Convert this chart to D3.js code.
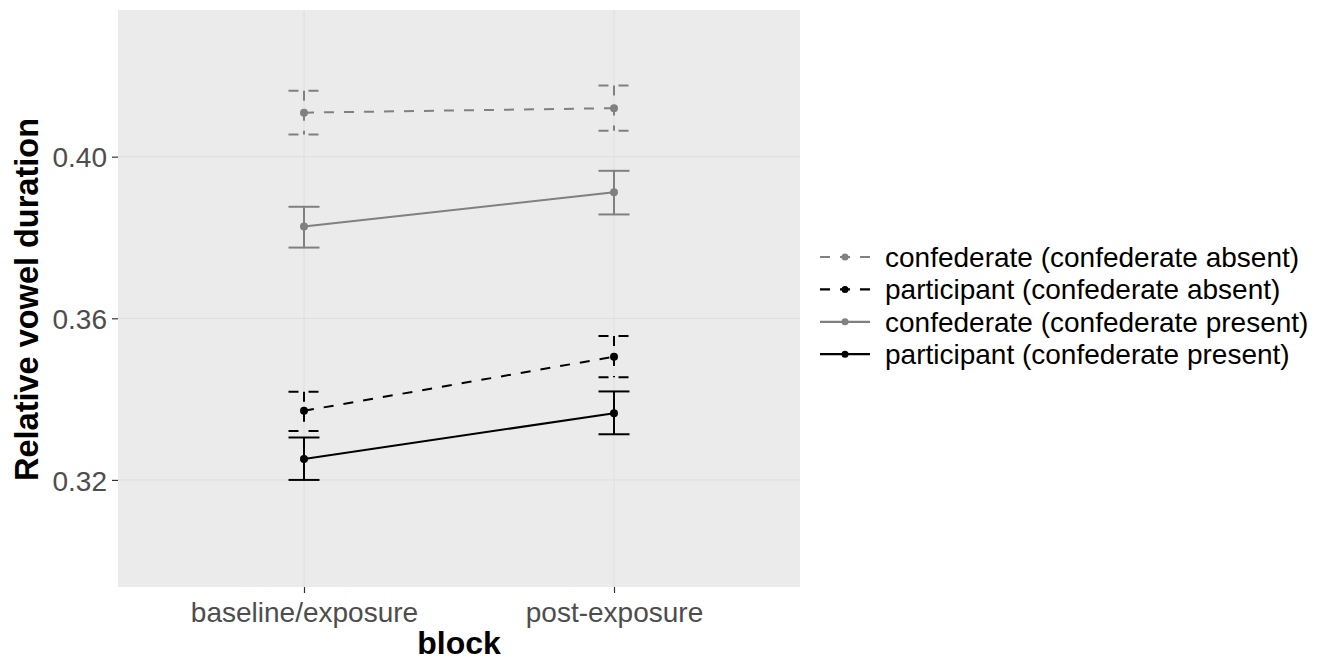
<!DOCTYPE html>
<html>
<head>
<meta charset="utf-8">
<script src="https://cdn.jsdelivr.net/npm/d3@7"></script>
<style>
  body { margin: 0; background: #fff; }
  svg { display: block; font-family: "Liberation Sans", Arial, sans-serif; }
</style>
</head>
<body>
<svg width="1324" height="662"></svg>
<script>
// data
const blocks = ["baseline/exposure", "post-exposure"];
const seriesNames = [
  "confederate (confederate absent)",
  "participant (confederate absent)",
  "confederate (confederate present)",
  "participant (confederate present)"
];
const means = [
  [0.4109, 0.4120],
  [0.3371, 0.3505],
  [0.3827, 0.3912],
  [0.3252, 0.3365]
];
const lower = [
  [0.4055, 0.4064],
  [0.3321, 0.3454],
  [0.3775, 0.3857],
  [0.3200, 0.3313]
];
const upper = [
  [0.4163, 0.4176],
  [0.3418, 0.3556],
  [0.3876, 0.3965],
  [0.3305, 0.3419]
];
const yTicks = [0.32, 0.36, 0.40];

const colours = ["#808080", "#000000", "#808080", "#000000"];
const dashes = ["10,10", "10,10", null, null];

let svg = d3.select("svg");
let panel = { left: 118, right: 800, top: 10, bottom: 587 };

let x = d3.scalePoint()
  .domain(blocks)
  .range([panel.left, panel.right])
  .padding(0.6);

let y = d3.scaleLinear()
  .domain([0.2935, 0.4363])
  .range([panel.bottom, panel.top]);

// panel background
svg.append("rect")
  .attr("x", panel.left)
  .attr("y", panel.top)
  .attr("width", panel.right - panel.left)
  .attr("height", panel.bottom - panel.top)
  .attr("fill", "#ebebeb");

// grid
let grid = svg.append("g").attr("stroke", "#dedede").attr("stroke-width", 1);
grid.selectAll(".gy")
  .data(yTicks)
  .enter()
  .append("line")
  .attr("x1", panel.left).attr("x2", panel.right)
  .attr("y1", d => y(d)).attr("y2", d => y(d));
grid.selectAll(".gx")
  .data(blocks)
  .enter()
  .append("line")
  .attr("y1", panel.top).attr("y2", panel.bottom)
  .attr("x1", d => x(d)).attr("x2", d => x(d));

// axes
let yAxis = svg.append("g")
  .attr("transform", `translate(${panel.left},0)`)
  .call(d3.axisLeft(y).tickValues(yTicks).tickFormat(d3.format(".2f")).tickSize(6).tickPadding(5));
let xAxis = svg.append("g")
  .attr("transform", `translate(0,${panel.bottom})`)
  .call(d3.axisBottom(x).tickSize(6).tickPadding(5));

[yAxis, xAxis].forEach(a => {
  a.select(".domain").remove();
  a.selectAll(".tick line").attr("stroke", "#333").attr("stroke-width", 1.2);
  a.selectAll(".tick text")
    .attr("fill", "#4d4d4d")
    .style("font-size", "28px")
    .style("font-family", "Liberation Sans, Arial, sans-serif");
});
xAxis.selectAll(".tick text").attr("dy", "0.85em");
yAxis.selectAll(".tick text").attr("dy", "0.36em");

// axis titles
svg.append("text")
  .attr("x", (panel.left + panel.right) / 2)
  .attr("y", 654)
  .attr("text-anchor", "middle")
  .style("font-size", "32px")
  .style("font-weight", "bold")
  .text("block");

svg.append("text")
  .attr("transform", `translate(38,${(panel.top + panel.bottom) / 2 + 1}) rotate(-90)`)
  .attr("text-anchor", "middle")
  .style("font-size", "32.5px")
  .style("font-weight", "bold")
  .text("Relative vowel duration");

// series
let series = seriesNames.map((name, i) => ({
  name: name,
  colour: colours[i],
  dash: dashes[i],
  values: blocks.map((b, j) => ({ block: b, mean: means[i][j], lo: lower[i][j], hi: upper[i][j] }))
}));

let line = d3.line()
  .x(d => x(d.block))
  .y(d => y(d.mean));

let plot = svg.append("g");

series.forEach(s => {
  plot.append("path")
    .datum(s.values)
    .attr("d", line)
    .attr("fill", "none")
    .attr("stroke", s.colour)
    .attr("stroke-width", 2)
    .attr("stroke-dasharray", s.dash);
});

let capHalf = 15.5;
series.forEach(s => {
  let eb = plot.append("g")
    .attr("stroke", s.colour)
    .attr("stroke-width", 2)
    .attr("stroke-dasharray", s.dash);
  s.values.forEach(d => {
    let cx = x(d.block);
    eb.append("line").attr("x1", cx - capHalf).attr("x2", cx + capHalf)
      .attr("y1", y(d.hi)).attr("y2", y(d.hi));
    eb.append("line").attr("x1", cx).attr("x2", cx)
      .attr("y1", y(d.hi)).attr("y2", y(d.lo));
    eb.append("line").attr("x1", cx - capHalf).attr("x2", cx + capHalf)
      .attr("y1", y(d.lo)).attr("y2", y(d.lo));
  });
});

series.forEach(s => {
  plot.selectAll(null)
    .data(s.values)
    .enter()
    .append("circle")
    .attr("cx", d => x(d.block))
    .attr("cy", d => y(d.mean))
    .attr("r", 4)
    .attr("fill", s.colour);
});

// legend
let legend = svg.append("g").attr("transform", "translate(818,257)");
let rowH = 32.4;
let item = legend.selectAll(".item")
  .data(series)
  .enter()
  .append("g")
  .attr("transform", (d, i) => `translate(0,${i * rowH})`);

item.append("line")
  .attr("x1", 2).attr("x2", 52)
  .attr("y1", 0).attr("y2", 0)
  .attr("stroke", d => d.colour)
  .attr("stroke-width", 2.2)
  .attr("stroke-dasharray", d => d.dash);
item.append("circle")
  .attr("cx", 27).attr("cy", 0).attr("r", 3.5)
  .attr("fill", d => d.colour);
item.append("text")
  .attr("x", 67)
  .attr("dy", "0.36em")
  .style("font-size", "28px")
  .attr("fill", "#000")
  .text(d => d.name);
</script>
</body>
</html>
